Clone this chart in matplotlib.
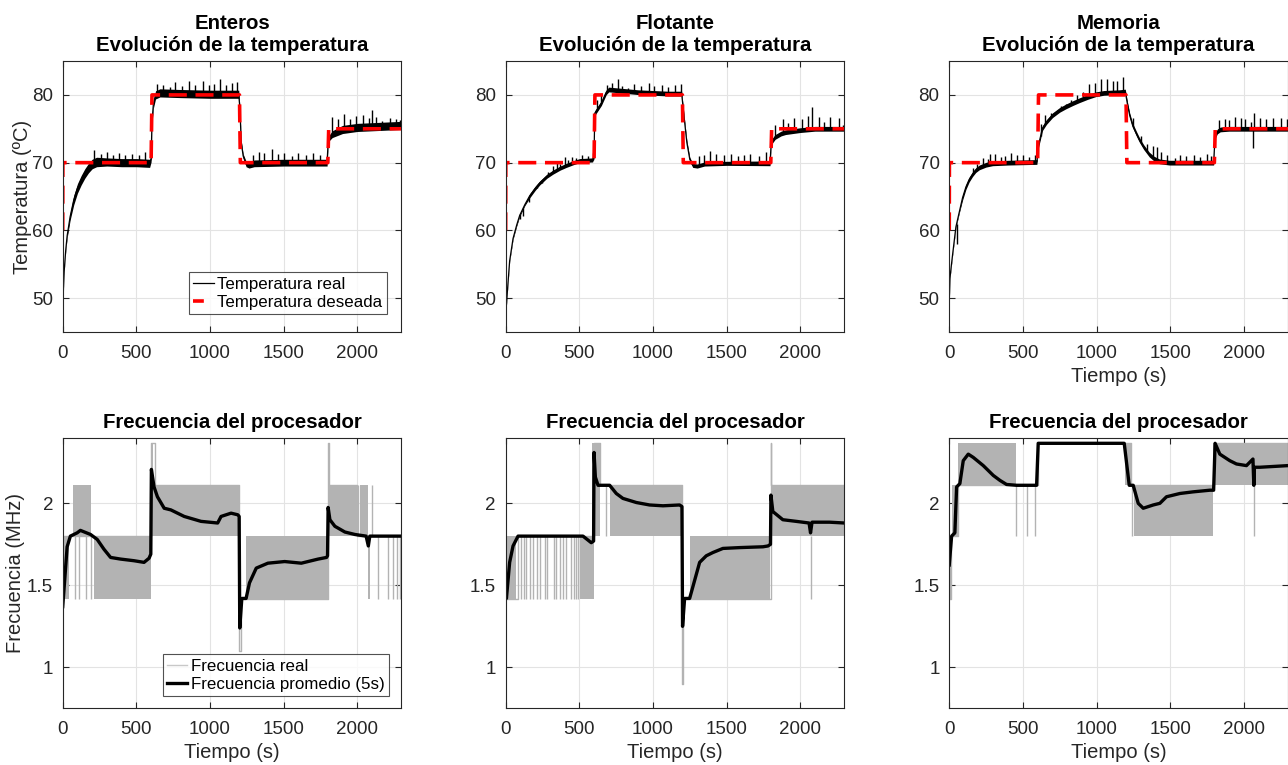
import numpy as np
import matplotlib
matplotlib.use("Agg")
import matplotlib.pyplot as plt
from matplotlib.lines import Line2D

plt.rcParams['font.family'] = ['Liberation Sans', 'DejaVu Sans']

# Temperature set point (same for the three tests)
set_t = [0, 1, 600, 606, 1200, 1206, 1800, 1806, 2300]
set_v = [60, 70, 70, 80, 80, 70, 70, 75, 75]

# Measured temperature: central curve, noise half-width and isolated spikes
ent_t = [0, 5, 10, 20, 30, 50, 75, 100, 125, 150, 175, 200, 230, 300, 400, 500, 590,
         600, 606, 615, 630, 660, 800, 1000, 1195, 1203, 1212, 1225, 1245, 1265, 1300,
         1500, 1795, 1803, 1830, 1900, 2000, 2100, 2200, 2300]
ent_v = [47.5, 51.5, 54.0, 57.0, 59.2, 62.0, 64.5, 66.2, 67.4, 68.4, 69.2, 69.8, 70.1, 70.1,
         70.0, 70.0, 69.9, 70.5, 76.0, 78.5, 80.0, 80.3, 80.2, 80.1, 80.1, 78.0, 73.0, 71.0,
         69.8, 69.6, 69.9, 70.0, 70.0, 73.5, 74.2, 74.9, 75.2, 75.3, 75.4, 75.5]
ent_w = [0.1, 0.1, 0.1, 0.2, 0.3, 0.5, 0.7, 0.7, 0.7, 0.7, 0.7, 0.7, 0.7, 0.6, 0.6, 0.6, 0.6,
         0.4, 0.4, 0.5, 0.6, 0.6, 0.6, 0.6, 0.6, 0.3, 0.3, 0.3, 0.4, 0.4, 0.5, 0.5, 0.5,
         0.4, 0.5, 0.6, 0.6, 0.6, 0.6, 0.6]
ent_spk_t = [215, 260, 300, 340, 380, 420, 470, 520, 560,
             640, 680, 730, 760, 810, 860, 900, 950, 990, 1030, 1070, 1110, 1150, 1185,
             1290, 1330, 1370, 1420, 1460, 1500, 1560, 1600, 1650, 1700, 1750,
             1830, 1870, 1910, 1950, 1990, 2040, 2080, 2100, 2130, 2170, 2220, 2260, 2290]
ent_spk_top = [71.8, 71.3, 71.5, 71.2, 71.4, 71.1, 71.3, 71.2, 71.5,
               81.6, 81.4, 81.2, 81.9, 81.3, 82.1, 81.5, 82.0, 81.4, 81.6, 82.3, 81.5, 81.8, 81.9,
               71.1, 71.5, 71.4, 72.0, 71.3, 71.4, 71.0, 71.4, 71.2, 71.4, 71.2,
               76.8, 76.4, 77.2, 76.5, 76.9, 77.0, 76.6, 77.8, 76.8, 76.2, 76.6, 76.4, 76.3]

flo_t = [0, 5, 15, 27, 50, 75, 95, 130, 163, 200, 231, 280, 321, 370, 412, 460, 502, 590,
         600, 605, 620, 650, 683, 700, 800, 900, 1000, 1100, 1195, 1210, 1230, 1250, 1270,
         1300, 1350, 1500, 1795, 1803, 1830, 1870, 1900, 2000, 2100, 2300]
flo_v = [46.0, 49.0, 52.0, 55.5, 58.8, 60.8, 62.2, 63.8, 65.1, 66.2, 67.0, 68.0, 68.6, 69.2,
         69.6, 70.0, 70.3, 70.4, 71.0, 77.3, 77.8, 78.8, 80.4, 80.8, 80.6, 80.4, 80.3, 80.2,
         80.2, 77.0, 73.0, 70.5, 69.6, 69.5, 69.8, 69.9, 69.9, 73.0, 73.8, 74.3, 74.5, 74.8,
         75.0, 75.0]
flo_w = [0.15] * 8 + [0.3] * 10 + [0.35] * 11 + [0.3] * 7 + [0.35] * 8
flo_spk_t = [100, 120, 160, 210, 250, 290, 320, 350, 370, 400, 420, 450, 480, 520, 560, 590,
             620, 650, 690, 720, 760, 790, 830, 870, 920, 970, 1010, 1060, 1100, 1150, 1190,
             1310, 1350, 1390, 1430, 1480, 1530, 1580, 1620, 1660, 1720, 1770,
             1830, 1880, 1920, 1960, 2010, 2050, 2080, 2130, 2160, 2200, 2260, 2290]
flo_spk_top = [61.7, 62.1, 64.2, 66.2, 67.0, 68.6, 69.5, 70.3, 69.8, 70.9, 70.4, 70.8, 70.7,
               71.1, 71.0, 71.4,
               79.3, 80.2, 81.5, 81.8, 82.4, 81.3, 81.0, 81.6, 81.3, 81.8, 81.3, 81.5, 81.2,
               81.4, 81.6,
               71.0, 71.2, 71.7, 71.3, 71.2, 71.3, 71.0, 71.2, 71.3, 71.0, 71.5,
               75.5, 76.4, 75.8, 76.6, 76.5, 76.9, 78.2, 76.7, 76.0, 76.7, 76.6, 75.5]

mem_t = [0, 5, 15, 23, 45, 68, 90, 113, 135, 158, 180, 204, 250, 294, 400, 595, 605, 633,
         660, 701, 750, 792, 840, 882, 940, 995, 1050, 1154, 1195, 1211, 1225, 1245, 1270,
         1290, 1320, 1358, 1390, 1426, 1494, 1795, 1805, 1820, 1840, 1900, 2300]
mem_v = [49.5, 53.0, 55.0, 56.5, 60.5, 62.7, 64.8, 66.4, 67.5, 68.3, 68.9, 69.3, 69.7, 69.9,
         70.0, 70.1, 72.5, 75.1, 76.0, 77.0, 77.8, 78.3, 78.8, 79.2, 79.7, 80.1, 80.3, 80.4,
         80.5, 78.5, 77.0, 75.5, 74.3, 73.4, 72.3, 71.2, 70.6, 70.2, 70.0, 70.0, 73.9, 74.6,
         74.9, 75.0, 75.0]
mem_w = [0.15] * 6 + [0.35] * 10 + [0.35] * 13 + [0.35] * 10 + [0.35] * 6
mem_spk_t = [50, 100, 160, 190, 230, 260, 280, 310, 350, 380, 420, 460, 500, 540, 580,
             620, 650, 690, 760, 790, 830, 870, 910, 950, 990, 1030, 1070, 1110, 1140, 1180,
             1250, 1300, 1340, 1380, 1410, 1440, 1480, 1530, 1570, 1610, 1660, 1700, 1750, 1780,
             1830, 1870, 1900, 1940, 1980, 2010, 2050, 2070, 2110, 2150, 2200, 2250, 2290]
mem_spk_top = [58.0, 65.5, 69.2, 69.8, 70.7, 70.5, 71.3, 71.3, 70.8, 71.0, 71.4, 71.2, 71.2,
               70.9, 71.1,
               75.7, 77.0, 77.3, 78.3, 78.6, 79.3, 80.0, 80.5, 81.6, 81.8, 82.3, 82.3, 82.0,
               82.0, 82.7,
               76.6, 74.0, 72.7, 72.4, 72.3, 71.6, 71.2, 70.7, 71.1, 71.0, 71.2, 70.8, 71.3, 71.0,
               76.3, 76.4, 76.3, 76.7, 76.6, 76.4, 76.0, 77.3, 76.6, 76.4, 76.6, 76.6, 76.5]
mem_dip_t = [2060]
mem_dip_bottom = [72.2]

# Processor frequency: base step trace, dense switching bands and single switches
ent_step_t = [0, 600, 625, 1200, 1210, 1800, 1805, 2000, 2300]
ent_step_v = [1.8, 2.366, 2.112, 1.1, 1.416, 2.366, 2.112, 1.8, 1.8]
ent_bands = [(0, 40, 1.416, 1.8), (70, 193, 1.8, 2.112), (211, 602, 1.416, 1.8),
             (598, 612, 1.8, 2.366), (612, 1205, 1.8, 2.112), (1241, 1798, 1.416, 1.8),
             (1798, 1995, 1.8, 2.112), (2018, 2075, 1.8, 2.112), (2075, 2086, 1.416, 1.8)]
ent_switch = [(80, 1.416, 1.8), (111, 1.416, 1.8), (161, 1.416, 1.8), (193, 1.416, 1.8),
              (2008, 1.8, 2.112), (2102, 1.8, 2.112), (2143, 1.416, 1.8), (2207, 1.416, 1.8),
              (2245, 1.416, 1.8), (2268, 1.416, 1.8), (2290, 1.416, 1.8)]
ent_avg_t = [0, 30, 52, 98, 120, 189, 234, 280, 325, 393, 484, 552, 586, 598, 602, 620, 643,
             689, 734, 825, 939, 1052, 1075, 1143, 1189, 1198, 1202, 1216, 1245, 1268, 1314,
             1393, 1507, 1620, 1734, 1791, 1798, 1802, 1814, 1848, 1916, 1984, 2060, 2075,
             2085, 2300]
ent_avg_v = [1.37, 1.735, 1.80, 1.82, 1.835, 1.81, 1.78, 1.72, 1.67, 1.66, 1.65, 1.64, 1.665,
             1.69, 2.207, 2.10, 2.04, 1.97, 1.96, 1.92, 1.89, 1.88, 1.92, 1.94, 1.93, 1.92,
             1.24, 1.42, 1.42, 1.515, 1.605, 1.635, 1.645, 1.635, 1.66, 1.67, 1.68, 1.975,
             1.90, 1.86, 1.825, 1.81, 1.80, 1.74, 1.80, 1.80]

flo_step_t = [0, 85, 597, 638, 683, 1200, 1204, 1800, 1803, 2300]
flo_step_v = [1.416, 1.8, 2.366, 2.112, 2.112, 0.9, 1.416, 2.366, 2.112, 2.112]
flo_bands = [(0, 70, 1.416, 1.8), (502, 597, 1.416, 1.8), (588, 638, 1.8, 2.366),
             (706, 1197, 1.8, 2.112), (1249, 1792, 1.416, 1.8), (1800, 2300, 1.8, 2.112)]
flo_switch = [(t, 1.416, 1.8) for t in [106, 124, 140, 163, 186, 213, 235, 265, 283, 326,
                                        339, 367, 389, 412, 446, 464, 480, 491, 2070]]
flo_switch += [(683, 1.8, 2.112)]
flo_avg_t = [0, 5, 27, 50, 84, 300, 525, 581, 597, 600, 609, 627, 706, 751, 796, 887, 977,
             1068, 1181, 1197, 1201, 1215, 1249, 1283, 1317, 1362, 1407, 1475, 1588, 1747,
             1781, 1798, 1801, 1814, 1882, 1973, 2060, 2070, 2080, 2199, 2300]
flo_avg_v = [1.51, 1.42, 1.64, 1.74, 1.80, 1.80, 1.80, 1.76, 1.77, 2.31, 2.16, 2.11, 2.11,
             2.06, 2.03, 2.005, 1.99, 1.985, 1.99, 1.98, 1.25, 1.42, 1.42, 1.53, 1.64, 1.68,
             1.70, 1.725, 1.73, 1.735, 1.74, 1.75, 2.05, 1.95, 1.90, 1.89, 1.88, 1.82, 1.885,
             1.885, 1.88]

mem_step_t = [0, 10, 57, 600, 1231, 1800, 2300]
mem_step_v = [1.416, 1.8, 2.112, 2.366, 2.112, 2.366, 2.366]
mem_bands = [(0, 10, 1.416, 1.8), (16, 57, 1.8, 2.112), (57, 450, 2.112, 2.366),
             (1192, 1231, 2.112, 2.366), (1253, 1792, 1.8, 2.112), (1792, 2300, 2.112, 2.366)]
mem_switch = [(450, 1.8, 2.112), (525, 1.8, 2.112), (581, 1.8, 2.112), (1240, 1.8, 2.112),
              (2068, 1.8, 2.112)]
mem_avg_t = [0, 16, 38, 50, 72, 95, 129, 163, 231, 299, 344, 389, 457, 593, 604, 1188, 1222,
             1249, 1283, 1317, 1385, 1430, 1475, 1566, 1656, 1769, 1795, 1805, 1837, 1905,
             1950, 2018, 2062, 2068, 2072, 2109, 2300]
mem_avg_v = [1.624, 1.80, 1.82, 2.10, 2.12, 2.26, 2.30, 2.28, 2.23, 2.17, 2.14, 2.115, 2.11,
             2.11, 2.366, 2.366, 2.11, 2.11, 2.00, 1.97, 1.99, 2.00, 2.04, 2.06, 2.07, 2.08,
             2.08, 2.366, 2.30, 2.26, 2.24, 2.23, 2.27, 2.11, 2.22, 2.22, 2.23]

titles = ["Enteros", "Flotante", "Memoria"]
TXT = '#262626'
GRAY = '#b3b3b3'
DASH = (0, (5.0, 2.4))


def style_axes(ax):
    ax.set_xlim(0, 2300)
    ax.set_xticks([0, 500, 1000, 1500, 2000])
    ax.grid(True, color='#e3e3e3', lw=0.8)
    ax.set_axisbelow(True)
    ax.tick_params(direction='in', top=True, right=True, length=4, width=0.8,
                   labelsize=13.5, colors=TXT, pad=9)
    ax.tick_params(axis='y', pad=7)
    for s in ax.spines.values():
        s.set_color(TXT)
        s.set_linewidth(0.8)


def draw_temp(ax, t, v, w, spk_t, spk_top, dip_t=(), dip_bot=()):
    t = np.array(t)
    v = np.array(v)
    w = np.array(w)
    ax.fill_between(t, v - w, v + w, color='black', lw=0)
    ax.plot(t, v, color='black', lw=0.9)
    ax.vlines(spk_t, np.interp(spk_t, t, v), spk_top, color='black', lw=1.0)
    if len(dip_t):
        ax.vlines(dip_t, dip_bot, np.interp(dip_t, t, v), color='black', lw=1.0)
    ax.plot(set_t, set_v, color='red', lw=2.6, linestyle=DASH)
    ax.set_ylim(45, 85)
    ax.set_yticks([50, 60, 70, 80])


def draw_freq(ax, step_t, step_v, bands, switches, avg_t, avg_v):
    ax.plot(step_t, step_v, drawstyle='steps-post', color=GRAY, lw=1.0)
    for t0, t1, lo, hi in bands:
        ax.fill_between([t0, t1], lo, hi, color=GRAY, lw=0)
    for t, lo, hi in switches:
        ax.vlines(t, lo, hi, color=GRAY, lw=1.0)
    ax.plot(avg_t, avg_v, color='black', lw=2.4, solid_joinstyle='round')
    ax.set_ylim(0.75, 2.4)
    ax.set_yticks([1, 1.5, 2])
    ax.set_yticklabels(['1', '1.5', '2'])


def boxed_legend(ax, handles, labels, anchor):
    leg = ax.legend(handles, labels, loc='lower right', bbox_to_anchor=anchor,
                    fontsize=12.2, frameon=True, fancybox=False, edgecolor=TXT,
                    handlelength=1.2, handletextpad=0.2, borderpad=0.25,
                    labelspacing=0.2, borderaxespad=0)
    leg.get_frame().set_linewidth(0.8)


fig = plt.figure(figsize=(12.88, 7.65), dpi=100)
lefts = [0.0487, 0.3926, 0.7370]
width = 0.2630

temp_data = [(ent_t, ent_v, ent_w, ent_spk_t, ent_spk_top, (), ()),
             (flo_t, flo_v, flo_w, flo_spk_t, flo_spk_top, (), ()),
             (mem_t, mem_v, mem_w, mem_spk_t, mem_spk_top, mem_dip_t, mem_dip_bottom)]
freq_data = [(ent_step_t, ent_step_v, ent_bands, ent_switch, ent_avg_t, ent_avg_v),
             (flo_step_t, flo_step_v, flo_bands, flo_switch, flo_avg_t, flo_avg_v),
             (mem_step_t, mem_step_v, mem_bands, mem_switch, mem_avg_t, mem_avg_v)]

for i in range(3):
    ax = fig.add_axes([lefts[i], 0.566, width, 0.3542])
    draw_temp(ax, *temp_data[i])
    style_axes(ax)
    ax.set_title(titles[i] + "\nEvolución de la temperatura", fontsize=14.7,
                 fontweight='bold', linespacing=1.25, pad=7)
    if i == 0:
        ax.set_ylabel("Temperatura (ºC)", fontsize=14.5, color=TXT, labelpad=0)
        boxed_legend(ax, [Line2D([], [], color='black', lw=0.9),
                          Line2D([], [], color='red', lw=2.6, linestyle=(0, (3.0, 10.0)))],
                     ["Temperatura real", "Temperatura deseada"], (0.956, 0.066))
    if i == 2:
        ax.set_xlabel("Tiempo (s)", fontsize=14.5, color=TXT, labelpad=4)

    ax = fig.add_axes([lefts[i], 0.0741, width, 0.3537])
    draw_freq(ax, *freq_data[i])
    style_axes(ax)
    ax.set_title("Frecuencia del procesador", fontsize=14.7, fontweight='bold', pad=7)
    ax.set_xlabel("Tiempo (s)", fontsize=14.5, color=TXT, labelpad=4)
    if i == 0:
        ax.set_ylabel("Frecuencia (MHz)", fontsize=14.5, color=TXT, labelpad=1)
        boxed_legend(ax, [Line2D([], [], color='#c8c8c8', lw=1.0),
                          Line2D([], [], color='black', lw=2.4)],
                     ["Frecuencia real", "Frecuencia promedio (5s)"], (0.962, 0.045))

fig.savefig("out.png", dpi=100)
